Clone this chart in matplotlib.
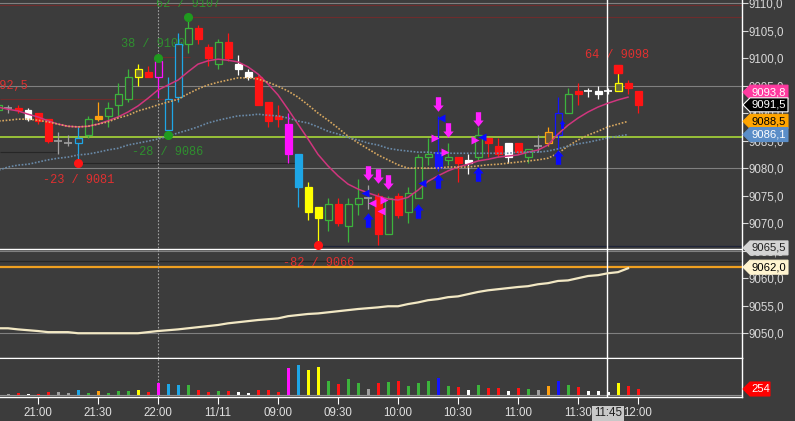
import numpy as np
import matplotlib
matplotlib.use("Agg")
import matplotlib.pyplot as plt
from matplotlib.patches import Rectangle, Polygon
from matplotlib.ticker import FuncFormatter
from matplotlib.transforms import IdentityTransform

plt.rcParams['font.family'] = ['Liberation Sans', 'DejaVu Sans']

# ---- data (5 min bars, index -1 .. 63) ----
bar_idx = np.arange(-1, 64)
opens = [9090.5, 9091.0, 9091.0, 9090.5, 9090.0, 9089.0, 9085.0, 9084.5, 9084.5, 9086.0,
         9089.5, 9089.5, 9091.5, 9092.5, 9096.5, 9097.5, 9096.5, 9087.0, 9093.0, 9102.5,
         9105.5, 9102.0, 9099.0, 9103.0, 9099.0, 9097.5, 9096.5, 9092.0, 9089.5, 9088.0,
         9082.5, 9076.5, 9073.0, 9070.5, 9073.5, 9069.5, 9073.5, 9074.5, 9075.0, 9068.0,
         9075.0, 9072.0, 9074.5, 9082.0, 9083.0, 9081.5, 9082.0, 9081.5, 9082.0, 9085.5,
         9084.0, 9084.5, 9084.5, 9082.0, 9084.0, 9084.5, 9086.0, 9090.0, 9094.0, 9094.0,
         9094.0, 9094.0, 9094.0, 9095.5, 9094.0]
highs = [9092.0, 9091.5, 9091.5, 9091.0, 9090.0, 9089.0, 9086.5, 9086.0, 9087.5, 9089.5,
         9092.0, 9092.0, 9095.5, 9098.0, 9099.0, 9098.5, 9100.0, 9096.5, 9104.5, 9107.5,
         9106.0, 9102.5, 9103.5, 9104.5, 9100.5, 9098.0, 9097.0, 9092.0, 9091.5, 9090.0,
         9082.5, 9077.5, 9073.0, 9074.5, 9074.5, 9074.5, 9078.0, 9077.0, 9075.5, 9075.0,
         9075.5, 9076.5, 9082.5, 9085.5, 9089.5, 9084.5, 9082.0, 9082.5, 9087.5, 9085.5,
         9085.5, 9084.5, 9084.5, 9083.5, 9086.0, 9087.5, 9093.0, 9094.5, 9095.5, 9094.5,
         9095.0, 9094.5, 9098.0, 9096.0, 9094.0]
lows = [9090.0, 9090.0, 9090.0, 9088.5, 9088.0, 9084.5, 9082.5, 9084.0, 9081.0, 9085.5,
        9088.5, 9087.5, 9089.5, 9092.0, 9095.0, 9096.5, 9093.0, 9086.0, 9092.0, 9101.0,
        9102.5, 9098.5, 9098.0, 9099.5, 9097.0, 9096.0, 9091.5, 9087.5, 9087.5, 9081.0,
        9073.0, 9070.5, 9066.0, 9068.5, 9069.5, 9066.5, 9071.5, 9072.5, 9066.0, 9068.0,
        9071.0, 9070.0, 9074.5, 9080.5, 9079.5, 9080.5, 9077.5, 9079.0, 9081.5, 9082.0,
        9082.0, 9081.0, 9082.5, 9081.0, 9083.0, 9084.0, 9083.5, 9090.0, 9091.5, 9093.0,
        9092.5, 9093.5, 9094.0, 9093.5, 9090.0]
closes = [9091.5, 9091.0, 9090.5, 9089.0, 9088.5, 9085.0, 9085.0, 9084.5, 9085.5, 9089.0,
          9089.0, 9091.0, 9093.5, 9096.5, 9098.0, 9096.5, 9099.5, 9092.5, 9102.5, 9105.5,
          9103.5, 9100.0, 9103.0, 9100.0, 9098.0, 9096.5, 9091.5, 9088.5, 9089.0, 9082.5,
          9076.5, 9072.0, 9071.0, 9073.5, 9070.0, 9073.5, 9074.5, 9074.5, 9068.0, 9074.5,
          9071.5, 9075.5, 9082.0, 9082.5, 9080.0, 9082.0, 9081.0, 9081.0, 9086.0, 9084.5,
          9082.5, 9082.0, 9083.0, 9083.5, 9084.0, 9086.5, 9090.0, 9093.5, 9093.5, 9094.0,
          9093.5, 9094.0, 9095.5, 9094.5, 9091.5]
kinds = ['g', 'gr', 'r', 'w', 'r', 'r', 'gr', 'gr', 'c', 'g',
         'o', 'g', 'g', 'g', 'y', 'r', 'm', 'c', 'c', 'g',
         'r', 'r', 'g', 'r', 'w', 'w', 'r', 'r', 'r', 'm',
         'c', 'y', 'y', 'g', 'r', 'g', 'g', 'gr', 'r', 'g',
         'r', 'g', 'g', 'g', 'b', 'g', 'r', 'w', 'g', 'r',
         'r', 'w', 'r', 'g', 'gr', 'o', 'b', 'g', 'r', 'w',
         'w', 'w', 'y', 'r', 'r']
volume = [40, 40, 85, 40, 40, 125, 125, 85, 210, 85,
          170, 85, 170, 170, 210, 125, 510, 465, 425, 425,
          210, 125, 170, 170, 125, 85, 210, 210, 125, 1140,
          1270, 1060, 1185, 590, 465, 675, 510, 255, 510, 550,
          590, 380, 510, 590, 720, 380, 340, 210, 425, 295,
          295, 170, 295, 255, 210, 380, 590, 425, 340, 170,
          170, 125, 510, 380, 254]

# moving averages, index -1 .. 62
ma_idx = np.arange(-1, 63)
ma_fast = [9091.1, 9090.7, 9090.4, 9089.8, 9089.3, 9088.6, 9088.0, 9087.6, 9087.5, 9087.6,
           9088.0, 9088.6, 9089.3, 9090.2, 9091.3, 9092.7, 9094.2, 9095.1, 9096.0, 9097.5,
           9098.9, 9099.5, 9099.8, 9099.6, 9099.3, 9098.4, 9097.1, 9095.3, 9093.3, 9090.7,
           9088.0, 9085.3, 9082.5, 9080.4, 9078.6, 9077.1, 9076.2, 9075.5, 9074.9, 9074.4,
           9074.2, 9074.7, 9076.0, 9077.6, 9078.6, 9079.5, 9080.2, 9080.7, 9081.3, 9081.6,
           9082.0, 9082.2, 9082.4, 9082.9, 9083.3, 9084.2, 9086.2, 9087.8, 9089.1, 9090.2,
           9091.1, 9091.8, 9092.4, 9092.9]
ma_mid = [9088.55, 9088.7, 9088.9, 9088.9, 9088.7, 9088.4, 9088.0, 9087.6, 9087.5, 9087.6,
          9088.0, 9088.4, 9089.1, 9089.6, 9090.4, 9090.9, 9091.5, 9092.0, 9092.5, 9093.5,
          9094.4, 9095.1, 9095.6, 9096.0, 9096.4, 9096.4, 9096.2, 9095.6, 9094.9, 9094.0,
          9092.9, 9091.5, 9090.0, 9088.7, 9087.3, 9085.8, 9084.6, 9083.5, 9082.4, 9081.5,
          9080.6, 9080.0, 9080.0, 9080.0, 9080.0, 9080.2, 9080.2, 9080.2, 9080.4, 9080.6,
          9080.7, 9080.9, 9081.1, 9081.3, 9081.5, 9081.8, 9082.7, 9084.0, 9085.1, 9086.0,
          9086.7, 9087.5, 9088.0, 9088.5]
ma_slow = [9079.6, 9080.2, 9080.55, 9080.7, 9081.1, 9081.5, 9081.8, 9082.0, 9082.4, 9082.55,
           9082.9, 9083.3, 9083.6, 9084.2, 9084.55, 9084.9, 9085.3, 9085.8, 9086.4, 9086.9,
           9087.5, 9088.2, 9088.7, 9089.1, 9089.5, 9089.6, 9089.8, 9089.6, 9089.5, 9089.1,
           9088.55, 9088.2, 9087.5, 9086.7, 9086.2, 9085.6, 9085.1, 9084.55, 9084.2, 9083.6,
           9083.3, 9083.1, 9082.9, 9082.9, 9082.7, 9082.7, 9082.7, 9082.7, 9082.7, 9082.7,
           9082.7, 9082.7, 9082.9, 9082.9, 9082.9, 9083.1, 9083.5, 9084.0, 9084.4, 9084.7,
           9085.1, 9085.5, 9085.8, 9086.1]
ma_long = [9050.9, 9050.9, 9050.7, 9050.55, 9050.4, 9050.2, 9050.2, 9050.2, 9050.0, 9050.0,
           9050.0, 9050.0, 9050.0, 9050.0, 9050.0, 9050.2, 9050.4, 9050.55, 9050.7, 9050.9,
           9051.1, 9051.3, 9051.5, 9051.8, 9052.0, 9052.2, 9052.4, 9052.55, 9052.7, 9053.1,
           9053.3, 9053.5, 9053.6, 9053.8, 9054.0, 9054.2, 9054.4, 9054.55, 9054.7, 9054.9,
           9054.9, 9055.3, 9055.6, 9056.0, 9056.2, 9056.55, 9056.7, 9057.1, 9057.5, 9057.8,
           9058.0, 9058.2, 9058.4, 9058.55, 9058.9, 9059.1, 9059.5, 9059.6, 9060.0, 9060.4,
           9060.55, 9060.9, 9061.1, 9061.8]

# signal arrows and triangles (bar position, price)
sell_x = [36, 37, 38, 43, 44, 47]
sell_y = [9079.2, 9078.5, 9077.4, 9091.6, 9087.0, 9088.9]
buy_x = [36, 41, 43, 47, 55]
buy_y = [9070.55, 9072.3, 9077.7, 9078.9, 9082.1]
blue_tri_x = [35.7, 41.4, 43.3, 47.4]
blue_tri_y = [9075.45, 9077.3, 9089.1, 9085.6]
mag_right_x = [42.7, 43.7, 46.7, 37.6]
mag_right_y = [9085.45, 9082.9, 9085.1, 9074.2]
mag_left_x = [36.4, 37.3]
mag_left_y = [9073.6, 9072.2]

# swing points and their labels
piv_green = [(15, 9100.0), (18, 9107.5), (16, 9086.0)]
piv_red = [(7, 9081.0), (31, 9066.0)]
piv_last = (61, 9098.0)
piv_labels = [(7.1, 9077.8, '-23 / 9081', 'red'), (14.5, 9102.5, '38 / 9100', 'green'),
              (18.0, 9109.8, '62 / 9107', 'green'), (16.0, 9082.9, '-28 / 9086', 'green'),
              (31.1, 9062.7, '-82 / 9066', 'red'), (60.9, 9100.5, '64 / 9098', 'red')]

tick_pos = [3, 9, 15, 21, 27, 33, 39, 45, 51, 57, 63]
tick_lab = ['21:00', '21:30', '22:00', '11/11', '09:00', '09:30', '10:00', '10:30',
            '11:00', '11:30', '12:00']

BG = '#3c3c3c'
PAL = {'g': '#3cb43c', 'r': '#ff1414', 'w': '#ffffff', 'gr': '#a0a0a0', 'c': '#1ea6e6',
       'o': '#ffa010', 'y': '#ffff00', 'm': '#ff10ff', 'b': '#1414ff'}
HOLLOW = {'y': '#6a6a3a', 'o': '#6a553a'}
LBL = {'red': '#e03030', 'green': '#2f8f2f'}

W, H = 795, 421
fig = plt.figure(figsize=(W / 100, H / 100), dpi=100)
fig.patch.set_facecolor(BG)
ax = fig.add_axes([0, 63 / H, 742 / W, 358 / H])
vax = fig.add_axes([0, 24 / H, 742 / W, 39 / H])
for a in (ax, vax):
    a.set_facecolor(BG)
    a.set_xlim(-0.8, 73.4)
    for s in ('top', 'left'):
        a.spines[s].set_visible(False)
    for s in ('right', 'bottom'):
        a.spines[s].set_color('white')
        a.spines[s].set_linewidth(1)
vax.spines['top'].set_visible(True)
vax.spines['top'].set_color('white')
ax.set_ylim(9045.5, 9110.55)
vax.set_ylim(-85, 1565)

# grid and level lines
for g in [9110, 9095, 9080, 9065, 9050]:
    ax.axhline(g, color='#808080', lw=0.8, zorder=1)
ax.axhline(9109.7, color='#6e2c2c', lw=0.8, zorder=1.2)
ax.hlines(9107.4, 18, 73.4, color='#6e2c2c', lw=0.8, zorder=1.2)
ax.hlines(9100.2, 15, 18.2, color='#6e2c2c', lw=0.8, zorder=1.2)
ax.hlines(9092.5, -0.8, 17, color='#6e2c2c', lw=0.8, zorder=1.2)
ax.hlines(9082.9, -0.8, 4.9, color='#262626', lw=0.8, zorder=1.2)
ax.hlines(9080.9, 7, 28.7, color='#262626', lw=0.8, zorder=1.2)
ax.hlines(9065.8, 31, 73.4, color='#1e2438', lw=0.9, zorder=1.2)
ax.axhline(9063.1, color='#262626', lw=0.9, zorder=1.2)
ax.axhline(9065.3, color='white', lw=1.0, zorder=1.3)
ax.axhline(9085.7, color='#a8d838', lw=1.2, zorder=1.4)
ax.axhline(9062.0, color='#f0a020', lw=1.6, zorder=1.4)
vax.axhline(0, color='#909090', lw=0.8, zorder=1)

# crosshair
for a in (ax, vax):
    a.axvline(15, color='#a0a0a0', lw=0.8, ls=(0, (1.5, 1.5)), zorder=1.5)
    a.axvline(59.9, color='white', lw=1.0, zorder=3.5)

# swing labels (behind candles)
for x, y, s, c in piv_labels:
    ax.text(x, y, s, color=LBL[c], ha='center', va='center', fontsize=8.6,
            family='Liberation Mono', zorder=2, clip_on=True)
ax.text(2.0, 9094.9, '9092,5', color=LBL['red'], ha='right', va='center', fontsize=8.6,
        family='Liberation Mono', zorder=2, clip_on=True)

# candles
for i, o, h, l, c, k in zip(bar_idx, opens, highs, lows, closes, kinds):
    col = PAL[k]
    ax.vlines(i, l, h, color=col, lw=0.9, zorder=3)
    if o == c:
        ax.hlines(o, i - 0.4, i + 0.4, color=col, lw=1.2, zorder=3)
    else:
        up = c > o
        face = HOLLOW.get(k, BG) if up else col
        ax.add_patch(Rectangle((i - 0.35, min(o, c)), 0.7, abs(c - o),
                               facecolor=face, edgecolor=col, lw=0.9, zorder=3.1))

# moving averages
ax.plot(ma_idx, ma_fast, color='#d0357e', lw=1.1, zorder=4)
ax.plot(ma_idx, ma_mid, color='#d8a860', lw=1.2, ls=(0, (1, 1)), zorder=4)
ax.plot(ma_idx, ma_slow, color='#6a8aa8', lw=1.2, ls=(0, (1, 1)), zorder=4)
ax.plot(ma_idx, ma_long, color='#f2e8c4', lw=1.6, zorder=4)

# signals
down_arrow = [(-0.36, 1), (0.36, 1), (0.36, -0.14), (0.71, -0.14), (0, -1), (-0.71, -0.14), (-0.36, -0.14)]
up_arrow = [(x, -y) for x, y in down_arrow]
ax.plot(sell_x, sell_y, ls='none', marker=down_arrow, ms=10.5, color='#ff20ff', mec='none', zorder=5)
ax.plot(buy_x, buy_y, ls='none', marker=up_arrow, ms=10.5, color='#0a0aff', mec='none', zorder=5)
ax.plot([55.4], [9088.0], ls='none', marker=up_arrow, ms=6, color='#0a0aff', mec='none', zorder=5)
ax.plot(blue_tri_x, blue_tri_y, ls='none', marker='<', ms=6, color='#0a0aff', mec='none', zorder=5)
ax.plot(mag_right_x, mag_right_y, ls='none', marker='>', ms=6, color='#ff20ff', mec='none', zorder=5)
ax.plot(mag_left_x, mag_left_y, ls='none', marker='<', ms=6, color='#ff20ff', mec='none', zorder=5)
ax.plot([p[0] for p in piv_green], [p[1] for p in piv_green], ls='none', marker='o', ms=5.5,
        color='#1f9a1f', zorder=5)
ax.plot([p[0] for p in piv_red], [p[1] for p in piv_red], ls='none', marker='o', ms=5.5,
        color='#ff1414', zorder=5)
ax.plot([piv_last[0]], [piv_last[1]], ls='none', marker='s', ms=6, color='#ff1414', zorder=5)

# volume
vax.bar(bar_idx, volume, width=0.3, color=[PAL[k] for k in kinds], zorder=3)

# axes ticks
ax.yaxis.tick_right()
ax.set_yticks(np.arange(9050, 9111, 5))
ax.yaxis.set_major_formatter(FuncFormatter(lambda v, p: f"{v:.1f}".replace('.', ',')))
ax.tick_params(axis='y', colors='#d8d8d8', length=4, width=0.8, labelsize=8.3, pad=1)
ax.tick_params(axis='x', bottom=False, labelbottom=False)
vax.set_yticks([])
vax.set_xticks(tick_pos)
vax.set_xticklabels(tick_lab)
vax.tick_params(axis='x', colors='white', labelcolor='#e0e0e0', length=5, width=0.8,
                labelsize=8.3, pad=2)
vax.text(60, -0.42, '11:45', transform=vax.get_xaxis_transform(), ha='center', va='center',
         fontsize=8.3, color='#202020', clip_on=False,
         bbox=dict(boxstyle='square,pad=0.15', fc='#c8c8c8', ec='none'))


def tag(axis, value, text, bg, fg, width=46, edge=None):
    x0 = axis.transAxes.transform((1, 0))[0]
    y = axis.transData.transform((0, value))[1]
    h = 14
    pts = [(x0 + 1, y), (x0 + 8, y + h / 2), (x0 + width, y + h / 2),
           (x0 + width, y - h / 2), (x0 + 8, y - h / 2)]
    fig.add_artist(Polygon(pts, closed=True, facecolor=bg, edgecolor=edge or bg, lw=0.8,
                           transform=IdentityTransform(), zorder=10))
    fig.text(x0 + 9, y, text, transform=IdentityTransform(), color=fg, fontsize=8.1,
             va='center', ha='left', zorder=11)


tag(ax, 9093.8, '9093,8', '#ff3aa0', 'white')
tag(ax, 9091.5, '9091,5', 'black', 'white', edge='white')
tag(ax, 9088.5, '9088,5', '#ffa500', 'black')
tag(ax, 9086.1, '9086,1', '#5b8ec8', 'white')
tag(ax, 9065.5, '9065,5', '#d4d4d4', '#202020')
tag(ax, 9062.0, '9062,0', '#fff4d0', 'black')
tag(vax, 254, '254', '#ff0000', 'white', width=28)

fig.savefig('out.png', dpi=100, facecolor=BG)
